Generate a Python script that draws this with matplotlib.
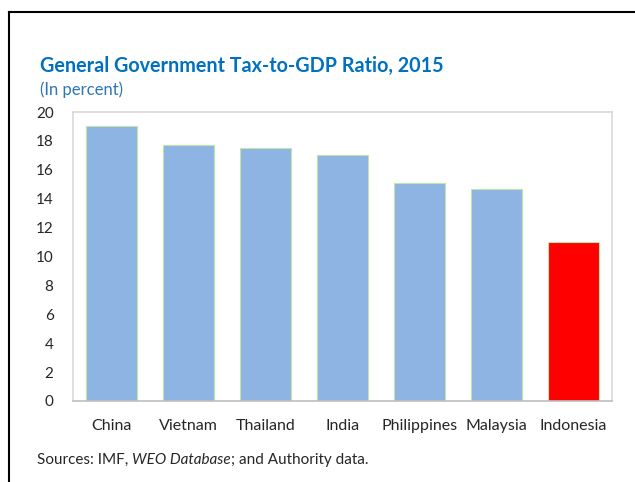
import matplotlib
matplotlib.use("Agg")
import matplotlib.pyplot as plt
from matplotlib.lines import Line2D

countries = ["China", "Vietnam", "Thailand", "India", "Philippines", "Malaysia", "Indonesia"]
values = [19.0, 17.7, 17.5, 17.0, 15.1, 14.7, 11.0]
colors = ["#8eb4e3"] * 6 + ["#ff0000"]
yticks = list(range(0, 21, 2))

W, H = 635, 482
fig = plt.figure(figsize=(W / 100, H / 100), dpi=100)
plt.rcParams['font.family'] = ['Lato', 'DejaVu Sans']

ax = fig.add_axes([73 / W, 1 - 401 / H, (612 - 73) / W, (401 - 112) / H])
x = range(len(countries))
ax.bar(x, values, width=0.66, color=colors, edgecolor="#c4e3a8", linewidth=0.8, zorder=2)
ax.set_xlim(-0.5, len(countries) - 0.5)
ax.set_ylim(0, 20)
ax.set_yticks(yticks)
ax.set_yticklabels([str(t) for t in yticks], fontsize=11, color="#262626")
ax.set_xticks(list(x))
ax.set_xticklabels(countries, fontsize=11.5, color="#262626")
ax.tick_params(axis="both", length=0)
ax.tick_params(axis="y", pad=14)
ax.tick_params(axis="x", pad=13)
for s in ["top", "right", "left"]:
    ax.spines[s].set_color("#d9d9d9")
    ax.spines[s].set_linewidth(1.2)
ax.spines["bottom"].set_color("#bfbfbf")
ax.spines["bottom"].set_linewidth(1.2)

fig.text(40 / W, 1 - 66 / H, "General Government Tax-to-GDP Ratio, 2015", fontsize=14.2,
         fontweight="bold", color="#0070c0", va="center", ha="left")
fig.text(40 / W, 1 - 90 / H, "(In percent)", fontsize=12, color="#2e75b6", va="center", ha="left")

# Sources line with italic part
renderer = fig.canvas.get_renderer()
parts = [("Sources: IMF, ", "normal"), ("WEO Database", "italic"), ("; and Authority data.", "normal")]
xpos = 37
for txt, style in parts:
    t = fig.text(xpos / W, 1 - 460 / H, txt, fontsize=11, color="#262626", va="center",
                 ha="left", style=style)
    bb = t.get_window_extent(renderer=renderer)
    xpos += bb.width

# border lines
fig.add_artist(Line2D([9 / W, 9 / W], [0, 1 - 12 / H], color="black", linewidth=1.5))
fig.add_artist(Line2D([9 / W, 1], [1 - 12 / H, 1 - 12 / H], color="black", linewidth=1.5))

fig.savefig("out.png", dpi=100)
